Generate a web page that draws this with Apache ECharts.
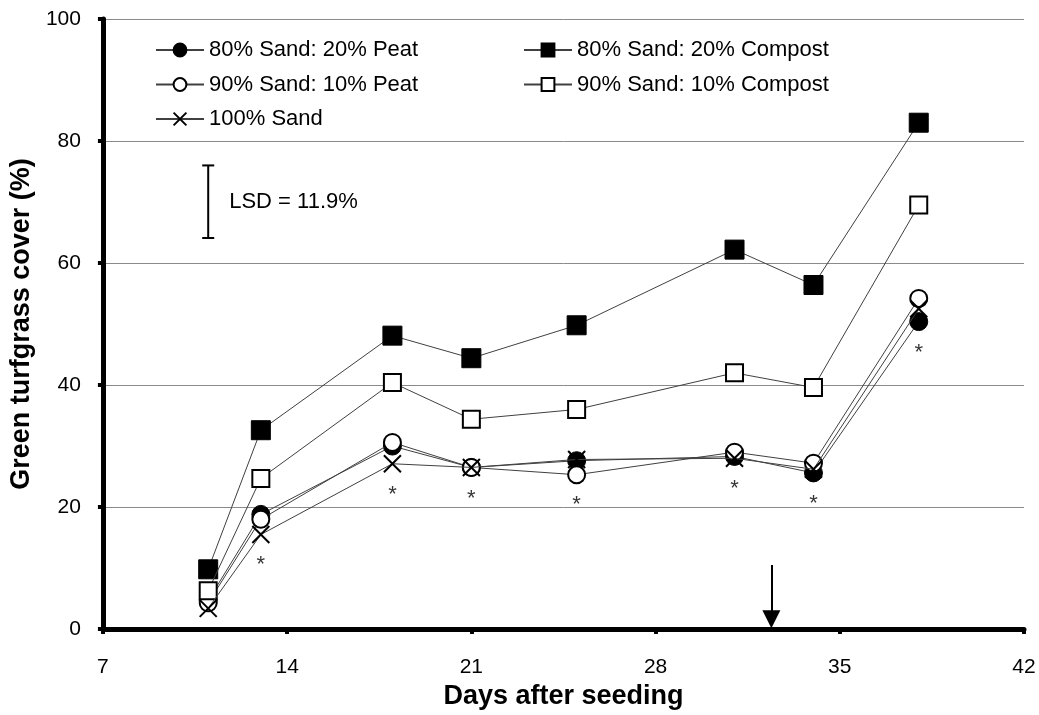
<!DOCTYPE html>
<html>
<head>
<meta charset="utf-8">
<script src="https://cdn.jsdelivr.net/npm/echarts@6/dist/echarts.min.js"></script>
<style>
html,body{margin:0;padding:0;background:#fff;}
#chart{width:1039px;height:715px;}
</style>
</head>
<body>
<div id="chart"></div>
<script>
// Days after seeding
const days = [11, 13, 18, 21, 25, 31, 34, 38];
// Green turfgrass cover (%)
const sand80peat20 = [4.7, 18.8, 30.0, 26.5, 27.6, 28.3, 25.6, 50.4];
const sand80compost20 = [9.8, 32.6, 48.1, 44.4, 49.8, 62.2, 56.4, 83.0];
const sand90peat10 = [4.3, 18.0, 30.6, 26.5, 25.3, 29.0, 27.2, 54.2];
const sand90compost10 = [6.3, 24.7, 40.4, 34.4, 36.0, 42.0, 39.6, 69.5];
const sand100 = [3.4, 15.5, 27.1, 26.5, 27.8, 28.0, 26.2, 52.5];
// significance asterisks (day, y position)
const starDays = [13, 18, 21, 25, 31, 34, 38];
const starY = [11.2, 22.7, 22.0, 21.0, 23.7, 21.2, 46.0];
// LSD bar
const lsdDay = 11;
const lsdLow = 64.1;
const lsdHigh = 76.0;
const lsdLabel = 'LSD = 11.9%';
// arrow marker
const arrowDay = 32.4;
const arrowTop = 10.5;

const xTicks = [7, 14, 21, 28, 35, 42];
const yTicks = [0, 20, 40, 60, 80, 100];

const names = ['80% Sand: 20% Peat', '80% Sand: 20% Compost', '90% Sand: 10% Peat', '90% Sand: 10% Compost', '100% Sand'];

function pairs(v){ return days.map((d,i)=>[d, v[i]]); }

const FONT = 'Liberation Sans, Arial, sans-serif';
const lineStyle = {color:'#404040', width:1};

const chart = echarts.init(document.getElementById('chart'), null, {renderer:'canvas'});
const legendText = {fontSize:22, color:'#000', fontFamily:FONT, lineHeight:20};
const option = {
  animation:false,
  backgroundColor:'#fff',
  textStyle:{fontFamily:FONT},
  grid:{left:101, right:15, top:19, bottom:83, containLabel:false},
  legend:[
    {orient:'vertical', left:150, top:34, itemWidth:48, itemHeight:16, itemGap:12.5,
     textStyle:legendText, data:[names[0], names[2], names[4]]},
    {orient:'vertical', left:518, top:34, itemWidth:48, itemHeight:16, itemGap:12.5,
     textStyle:legendText, data:[names[1], names[3]]}
  ],
  xAxis:{
    type:'value', min:7, max:42, interval:7,
    name:'Days after seeding', nameLocation:'middle', nameGap:50,
    nameTextStyle:{fontSize:27, fontWeight:'bold', color:'#000', fontFamily:FONT},
    axisLine:{lineStyle:{color:'#000', width:5}},
    axisTick:{show:true, length:5, lineStyle:{color:'#000', width:4}},
    axisLabel:{fontSize:21, color:'#000', margin:28, fontFamily:FONT},
    splitLine:{show:false}
  },
  yAxis:{
    type:'value', min:0, max:100, interval:20,
    name:'Green turfgrass cover (%)', nameLocation:'middle', nameGap:65,
    nameTextStyle:{fontSize:27, fontWeight:'bold', color:'#000', fontFamily:FONT},
    axisLine:{show:true, lineStyle:{color:'#000', width:5}},
    axisTick:{show:true, length:5, lineStyle:{color:'#000', width:4}},
    axisLabel:{fontSize:21, color:'#000', margin:22, fontFamily:FONT},
    splitLine:{show:true, lineStyle:{color:'#8a8a8a', width:1}}
  },
  series:[
    {name:names[0], type:'line', data:pairs(sand80peat20), symbol:'circle', symbolSize:18,
     lineStyle:lineStyle, itemStyle:{color:'#000', borderColor:'#000', borderWidth:1}, z:3},
    {name:names[1], type:'line', data:pairs(sand80compost20), symbol:'rect', symbolSize:19,
     lineStyle:lineStyle, itemStyle:{color:'#000', borderColor:'#000', borderWidth:1}, z:4},
    {name:names[2], type:'line', data:pairs(sand90peat10), symbol:'circle', symbolSize:17,
     lineStyle:lineStyle, itemStyle:{color:'#fff', borderColor:'#000', borderWidth:2}, z:5},
    {name:names[3], type:'line', data:pairs(sand90compost10), symbol:'rect', symbolSize:17,
     lineStyle:lineStyle, itemStyle:{color:'#fff', borderColor:'#000', borderWidth:2}, z:6},
    {name:names[4], type:'line', data:pairs(sand100), symbol:'path://M0,0L10,10M10,0L0,10', symbolSize:17,
     lineStyle:lineStyle, itemStyle:{color:'none', borderColor:'#000', borderWidth:2}, z:7},
    {name:'stars', type:'scatter', data:starDays.map((d,i)=>[d, starY[i]]), symbolSize:1,
     itemStyle:{color:'rgba(0,0,0,0)'}, silent:true, z:8,
     label:{show:true, formatter:'*', position:'inside', offset:[0,4], fontSize:22, color:'#000', fontFamily:FONT}},
    {name:'lsd', type:'custom', z:8, silent:true,
     data:[[lsdDay, lsdLow, lsdHigh]],
     renderItem:function(params, api){
       const lo = api.coord([api.value(0), api.value(1)]);
       const hi = api.coord([api.value(0), api.value(2)]);
       const w = 6;
       return {type:'group', children:[
         {type:'line', shape:{x1:lo[0], y1:lo[1], x2:hi[0], y2:hi[1]}, style:{stroke:'#000', lineWidth:2}},
         {type:'line', shape:{x1:lo[0]-w, y1:lo[1], x2:lo[0]+w, y2:lo[1]}, style:{stroke:'#000', lineWidth:2}},
         {type:'line', shape:{x1:hi[0]-w, y1:hi[1], x2:hi[0]+w, y2:hi[1]}, style:{stroke:'#000', lineWidth:2}},
         {type:'text', style:{text:lsdLabel, x:lo[0]+21, y:(lo[1]+hi[1])/2, verticalAlign:'middle', align:'left',
           fontSize:22, fill:'#000', fontFamily:FONT}}
       ]};
     }},
    {name:'arrow', type:'line', data:[], silent:true, z:9,
     markLine:{silent:true, symbol:['none','triangle'], symbolSize:18, label:{show:false},
       lineStyle:{color:'#000', width:2, type:'solid'},
       data:[[{coord:[arrowDay, arrowTop]},{coord:[arrowDay, 1.6]}]]}}
  ]
};
chart.setOption(option);
</script>
</body>
</html>
